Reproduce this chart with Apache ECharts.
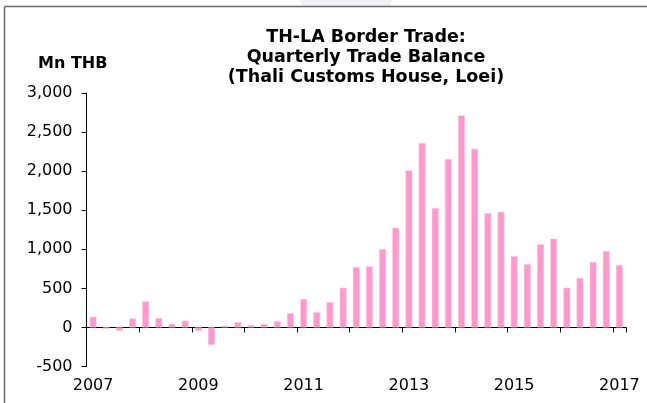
<!DOCTYPE html>
<html>
<head>
<meta charset="utf-8">
<script src="https://cdn.jsdelivr.net/npm/echarts@6/dist/echarts.min.js"></script>
<style>
html,body{margin:0;padding:0;background:#fff;overflow:hidden;}
#chart{width:647px;height:403px;}
</style>
</head>
<body>
<div id="chart"></div>
<script>
var quarters = [
  '2007Q1','2007Q2','2007Q3','2007Q4',
  '2008Q1','2008Q2','2008Q3','2008Q4',
  '2009Q1','2009Q2','2009Q3','2009Q4',
  '2010Q1','2010Q2','2010Q3','2010Q4',
  '2011Q1','2011Q2','2011Q3','2011Q4',
  '2012Q1','2012Q2','2012Q3','2012Q4',
  '2013Q1','2013Q2','2013Q3','2013Q4',
  '2014Q1','2014Q2','2014Q3','2014Q4',
  '2015Q1','2015Q2','2015Q3','2015Q4',
  '2016Q1','2016Q2','2016Q3','2016Q4',
  '2017Q1'
];
var tradeBalance = [
  137, -17, -43, 115,
  333, 120, 47, 85,
  -43, -226, 21, 68,
  30, 43, 81, 183,
  363, 196, 324, 508,
  772, 781, 1003, 1276,
  2010, 2360, 1528, 2155,
  2714, 2288, 1460, 1481,
  913, 811, 1063, 1135,
  508, 632, 837, 977,
  798
];
var yearLabels = ['2007','2009','2011','2013','2015','2017'];
var titleLines = ['TH-LA Border Trade:', 'Quarterly Trade Balance', '(Thali Customs House, Loei)'];
var unitLabel = 'Mn THB';

var chart = echarts.init(document.getElementById('chart'), null, {renderer:'canvas'});
var font = 'DejaVu Sans';
chart.setOption({
  animation: false,
  backgroundColor: '#ffffff',
  title: [
    {
      text: titleLines.join('\n'),
      left: 361, top: 22, textAlign: 'center',
      textStyle: {fontFamily: font, fontSize: 17.5, fontWeight: 'bold', color: '#000', lineHeight: 20}
    },
    {
      text: unitLabel, left: 33, top: 51,
      textStyle: {fontFamily: font, fontSize: 16, fontWeight: 'bold', color: '#000'}
    }
  ],
  graphic: [
    {type: 'polygon', silent: true, z: -1, shape: {points: [[300,0],[392,0],[390,6],[302,6]]}, style: {fill: '#f0f0f8'}},
    {type: 'line', silent: true, shape: {x1: 4.5, y1: 403, x2: 4.5, y2: 6.5}, style: {stroke: '#6a6a6a', lineWidth: 1.5}},
    {type: 'line', silent: true, shape: {x1: 4.5, y1: 6.5, x2: 647, y2: 6.5}, style: {stroke: '#6a6a6a', lineWidth: 1.5}}
  ],
  grid: {left: 86.5, right: 21, top: 93, bottom: 36.5, containLabel: false},
  xAxis: [
    {
      type: 'category', data: quarters, boundaryGap: true,
      axisLine: {onZero: true, lineStyle: {color: '#000', width: 1}},
      axisTick: {show: true, alignWithLabel: false, length: 5, interval: function (i) { return i % 4 === 0; }, lineStyle: {color: '#000'}},
      axisLabel: {show: false},
      splitLine: {show: false}
    },
    {
      type: 'category', data: quarters, boundaryGap: true, position: 'bottom',
      axisLine: {show: false, onZero: false},
      axisTick: {show: false},
      axisLabel: {
        show: true, margin: 11, interval: 0,
        fontFamily: font, fontSize: 16, color: '#000',
        formatter: function (v) {
          var y = v.slice(0, 4);
          return (v.slice(4) === 'Q1' && yearLabels.indexOf(y) >= 0) ? y : '';
        }
      },
      splitLine: {show: false}
    }
  ],
  yAxis: {
    type: 'value', min: -500, max: 3000, interval: 500,
    axisLine: {show: true, lineStyle: {color: '#000', width: 1}},
    axisTick: {show: true, inside: false, length: 5, lineStyle: {color: '#000'}},
    axisLabel: {
      fontFamily: font, fontSize: 16, color: '#000', margin: 14,
      formatter: function (v) { return v.toLocaleString('en-US'); }
    },
    splitLine: {show: false}
  },
  series: [{
    type: 'bar', xAxisIndex: 0, data: tradeBalance,
    barWidth: '52%',
    itemStyle: {color: '#ff99cc', borderColor: '#ffc4e2', borderWidth: 0.6}
  }]
});
</script>
</body>
</html>
